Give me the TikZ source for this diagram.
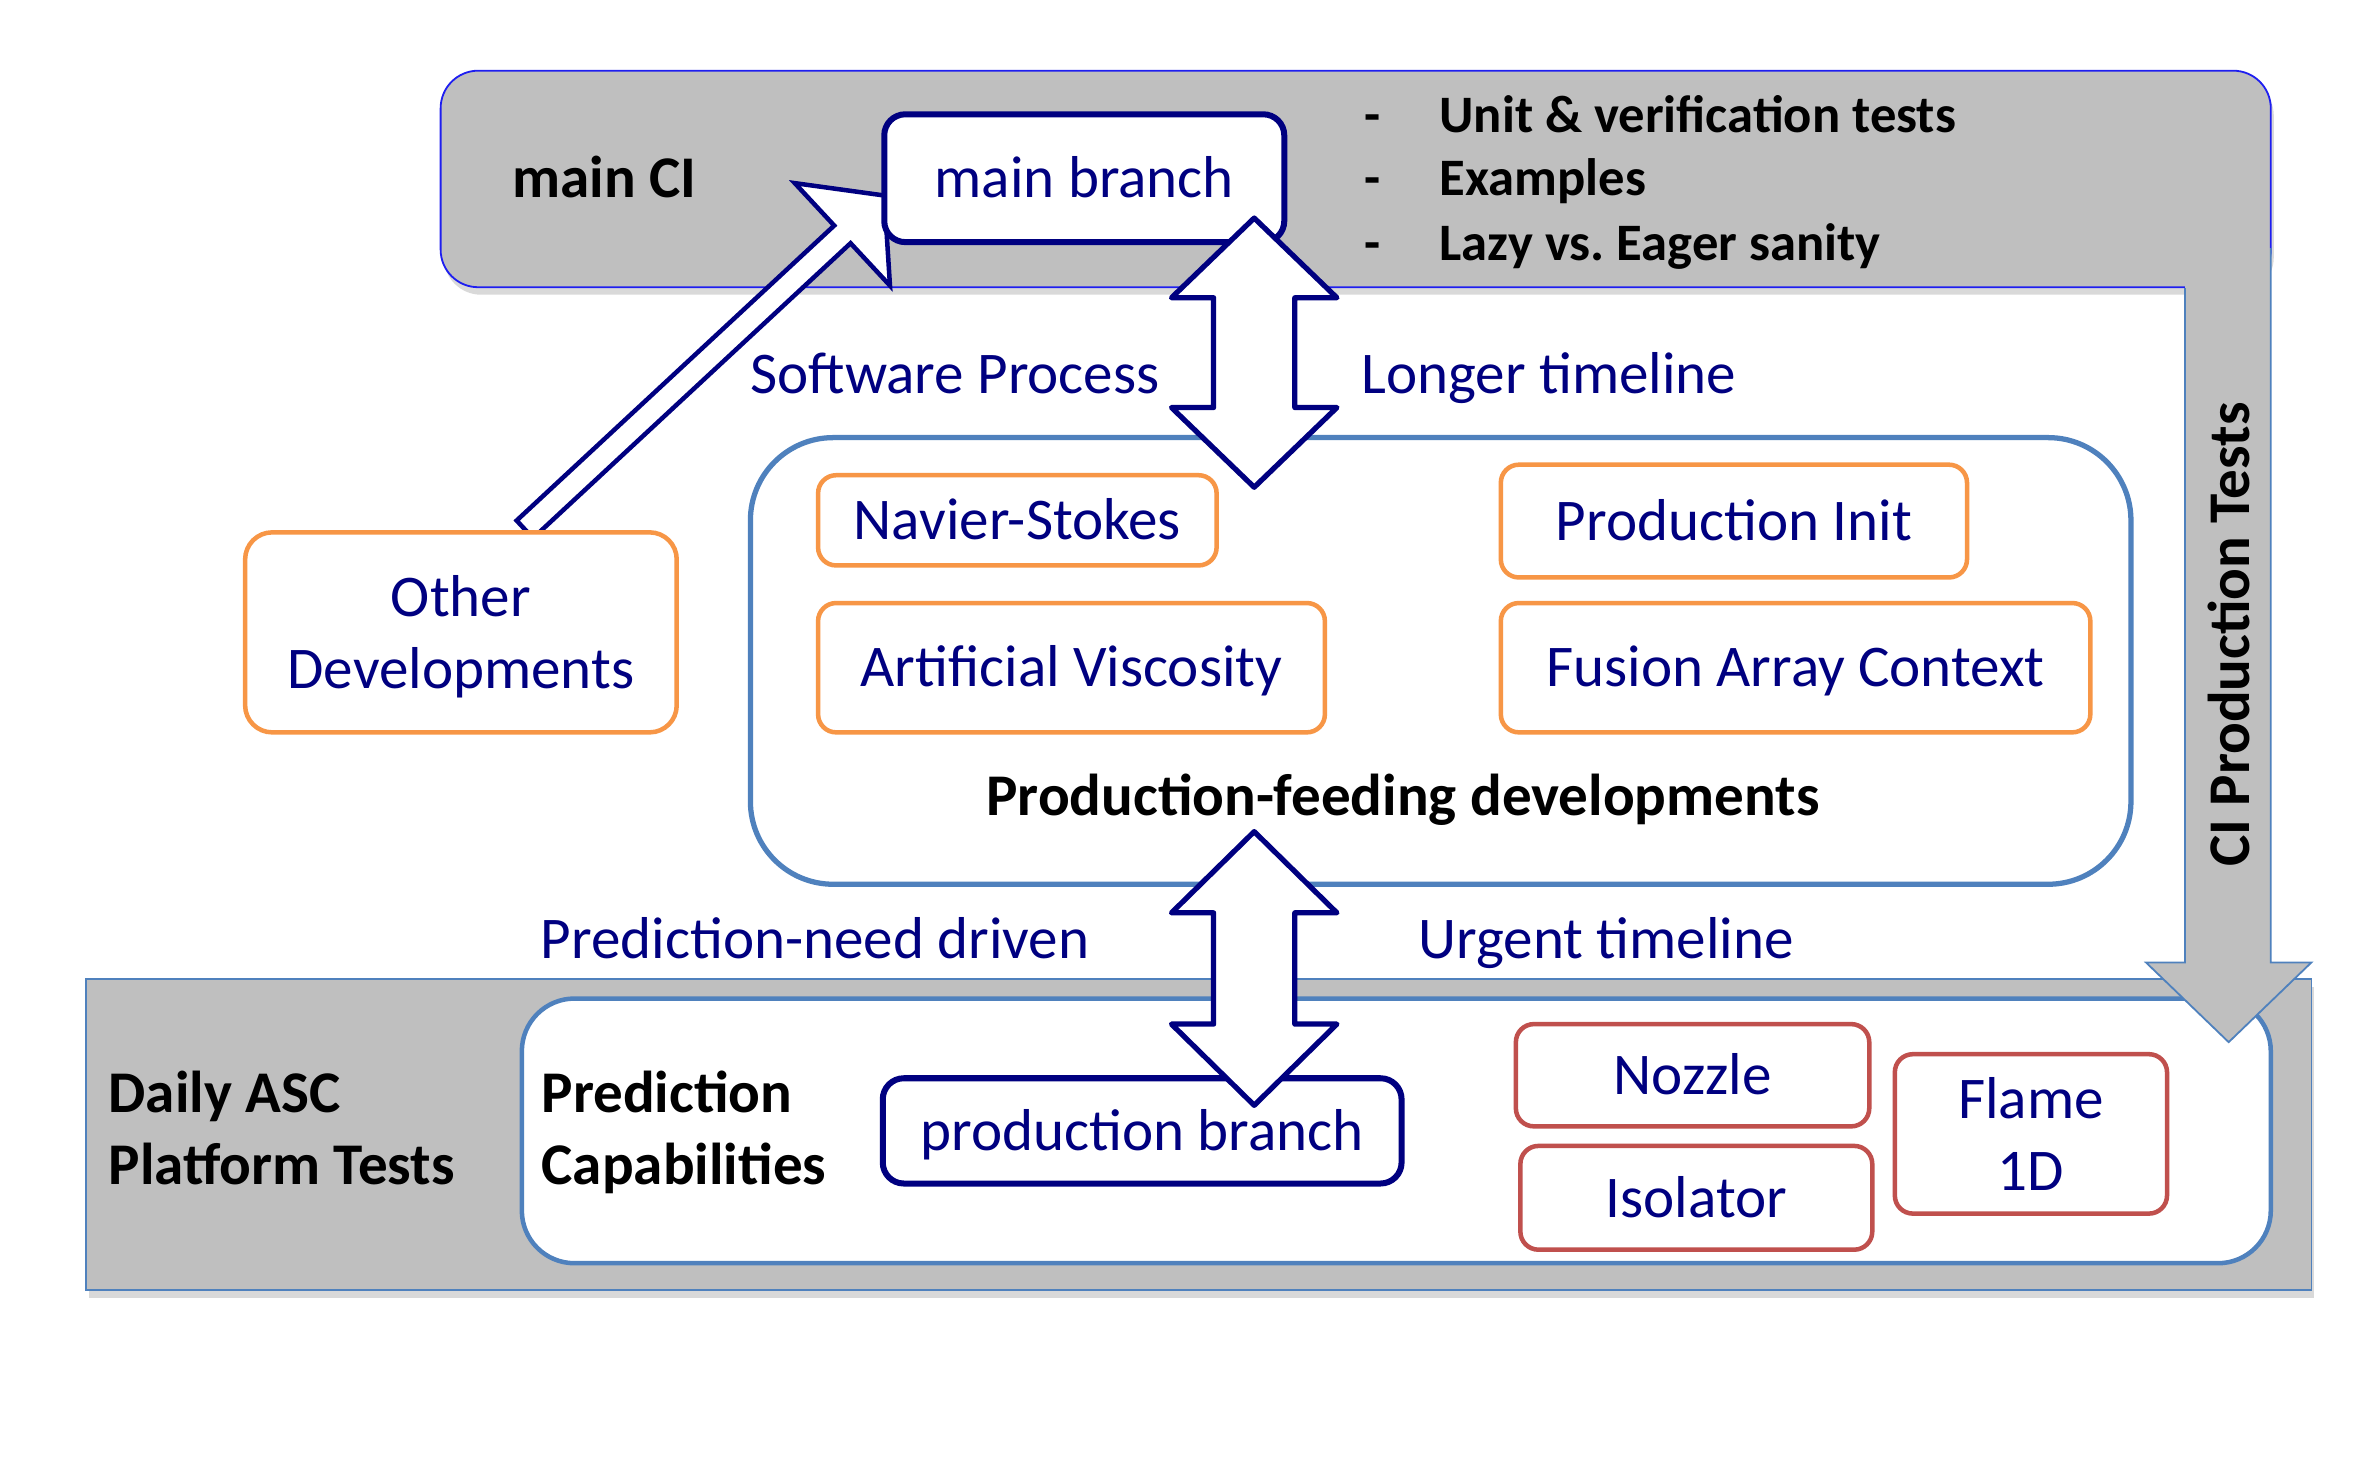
\documentclass[tikz,border=0pt]{standalone}
\usepackage{fontspec}
\setmainfont{Carlito}
\usetikzlibrary{calc,shadows}
\definecolor{cigray}{RGB}{191,191,191}
\definecolor{ciblue}{RGB}{30,30,240}
\definecolor{steel}{RGB}{79,129,189}
\definecolor{orng}{RGB}{247,150,70}
\definecolor{redb}{RGB}{192,80,77}
\definecolor{navy}{RGB}{0,0,128}
\begin{document}
\begin{tikzpicture}[x=1pt,y=-1pt,
  fnt/.style={font=\fontsize{39.3}{48}\selectfont},
  bfnt/.style={font=\fontsize{39.3}{48}\selectfont\bfseries},
  lbl/.style={fnt, text=navy, inner sep=0pt},
  blbl/.style={bfnt, text=black, inner sep=0pt},
  bul/.style={font=\fontsize{35}{42}\selectfont\bfseries, text=black, inner sep=0pt},
  boxbase/.style={fill=white, text=navy, fnt, inner sep=0pt, align=center},
  oneline/.style={text height=35pt, text depth=9.4pt},
  obox/.style={boxbase, draw=orng, line width=3pt, rounded corners=12pt},
  rbox/.style={boxbase, draw=redb, line width=3pt, rounded corners=12pt},
  nbox/.style={boxbase, draw=navy, line width=4pt, rounded corners=14pt},
  darrow/.style={draw=navy, line width=3.5pt, fill=white, line join=round},
  shad/.style={drop shadow={opacity=0.3, shadow xshift=2pt, shadow yshift=-5pt}},
]
\useasboundingbox (0,0) rectangle (1568,976);

% Daily ASC platform box
\node[draw=steel, line width=1.2pt, fill=cigray, shad, minimum width=1480pt, minimum height=207pt, inner sep=0pt] (daily) at (797,754.5) {};
% Prediction capabilities box
\node[draw=steel, line width=3pt, fill=white, rounded corners=35pt, minimum width=1163pt, minimum height=176pt, inner sep=0pt] (predcap) at (928.5,752) {};

% main CI box
\node[draw=ciblue, line width=1.2pt, fill=cigray, shad, rounded corners=25pt, minimum width=1217pt, minimum height=144pt, inner sep=0pt] (mainci) at (901.5,119) {};

% CI production tests bent arrow
\fill[cigray] (1453,165) -- (1453,640) -- (1427,640) -- (1482,693) -- (1537,640) -- (1510,640) -- (1510,165) -- cycle;
\draw[steel, line width=1.2pt, line join=miter] (1453,191.6) -- (1453,640) -- (1427,640) -- (1482,693) -- (1537,640) -- (1510,640) -- (1510,165);

% hollow arrow from other developments to main branch
\coordinate (hs) at (349,352);
\coordinate (ht) at (588,130);
\coordinate (hm) at ($(ht)!38pt!(hs)$);
\draw[darrow, line width=3pt, line join=miter]
  ($(hs)!8pt!90:(ht)$) -- ($(hm)!8pt!-90:(hs)$) -- ($(hm)!46.5pt!-90:(hs)$) -- (ht)
  -- ($(hm)!46.5pt!90:(hs)$) -- ($(hm)!8pt!90:(hs)$) -- ($(hs)!8pt!-90:(ht)$) -- cycle;

% main branch
\node[nbox, oneline, minimum width=266pt, minimum height=85pt] (mainbr) at (721,118.5) {main branch};

% production-feeding developments box
\node[draw=steel, line width=3.5pt, fill=white, rounded corners=55pt, minimum width=918pt, minimum height=297pt, inner sep=0pt] (pfd) at (958,439.5) {};

\node[obox, oneline, minimum width=265pt, minimum height=60pt] (ns) at (676.5,346) {Navier-Stokes};
\node[obox, oneline, minimum width=310pt, minimum height=75pt] (pi) at (1153,346.5) {Production Init};
\node[obox, oneline, minimum width=337pt, minimum height=86pt] (av) at (712.5,444) {Artificial Viscosity};
\node[obox, oneline, minimum width=392pt, minimum height=86pt] (fac) at (1194,444) {Fusion Array Context};
\node[obox, text depth=0pt, rounded corners=18pt, minimum width=287pt, minimum height=133pt] (od) at (306.5,420.5) {Other\\Developments};

% upper double arrow
\draw[darrow] (834,145) -- (889,198) -- (861,198) -- (861,271) -- (889,271) -- (834,324)
  -- (779,271) -- (807,271) -- (807,198) -- (779,198) -- cycle;

% production branch and test boxes
\node[nbox, oneline, minimum width=345pt, minimum height=70pt] (prodbr) at (759.5,752) {production branch};
\node[rbox, oneline, minimum width=235pt, minimum height=68pt] (nozzle) at (1125.5,715) {Nozzle};
\node[rbox, oneline, minimum width=234pt, minimum height=69pt] (isol) at (1128,796.5) {Isolator};
\node[rbox, minimum width=181pt, minimum height=106pt] (flame) at (1350.5,754) {Flame\\1D};

% lower double arrow
\draw[darrow] (834,553) -- (889,607) -- (861,607) -- (861,681) -- (889,681) -- (834,735)
  -- (779,681) -- (807,681) -- (807,607) -- (779,607) -- cycle;

% texts
\node[blbl, anchor=base] (mcil) at (402,131.5) {main CI};
\node[bul, anchor=base] (d1) at (913,88) {-};
\node[bul, anchor=base] (d2) at (913,130) {-};
\node[bul, anchor=base] (d3) at (913,173) {-};
\node[bul, anchor=base west] (t1) at (957,88) {Unit \& verification tests};
\node[bul, anchor=base west] (t2) at (957,130) {Examples};
\node[bul, anchor=base west] (t3) at (957,173) {Lazy vs.\ Eager sanity};

\node[lbl, anchor=base] (swp) at (635,261.5) {Software Process};
\node[lbl, anchor=base] (lt) at (1030,261.5) {Longer timeline};
\node[blbl, anchor=base] (pfdl) at (933,542.5) {Production-feeding developments};
\node[lbl, anchor=base] (pnd) at (542,637.5) {Prediction-need driven};
\node[lbl, anchor=base] (ut) at (1068,637.5) {Urgent timeline};

\node[blbl, anchor=west, align=left] (dl) at (72,750) {Daily ASC\\Platform Tests};
\node[blbl, anchor=west, align=left] (pcl) at (360,753) {Prediction\\Capabilities};
\node[blbl, rotate=90] (cipt) at (1482,422) {CI Production Tests};
\end{tikzpicture}
\end{document}
